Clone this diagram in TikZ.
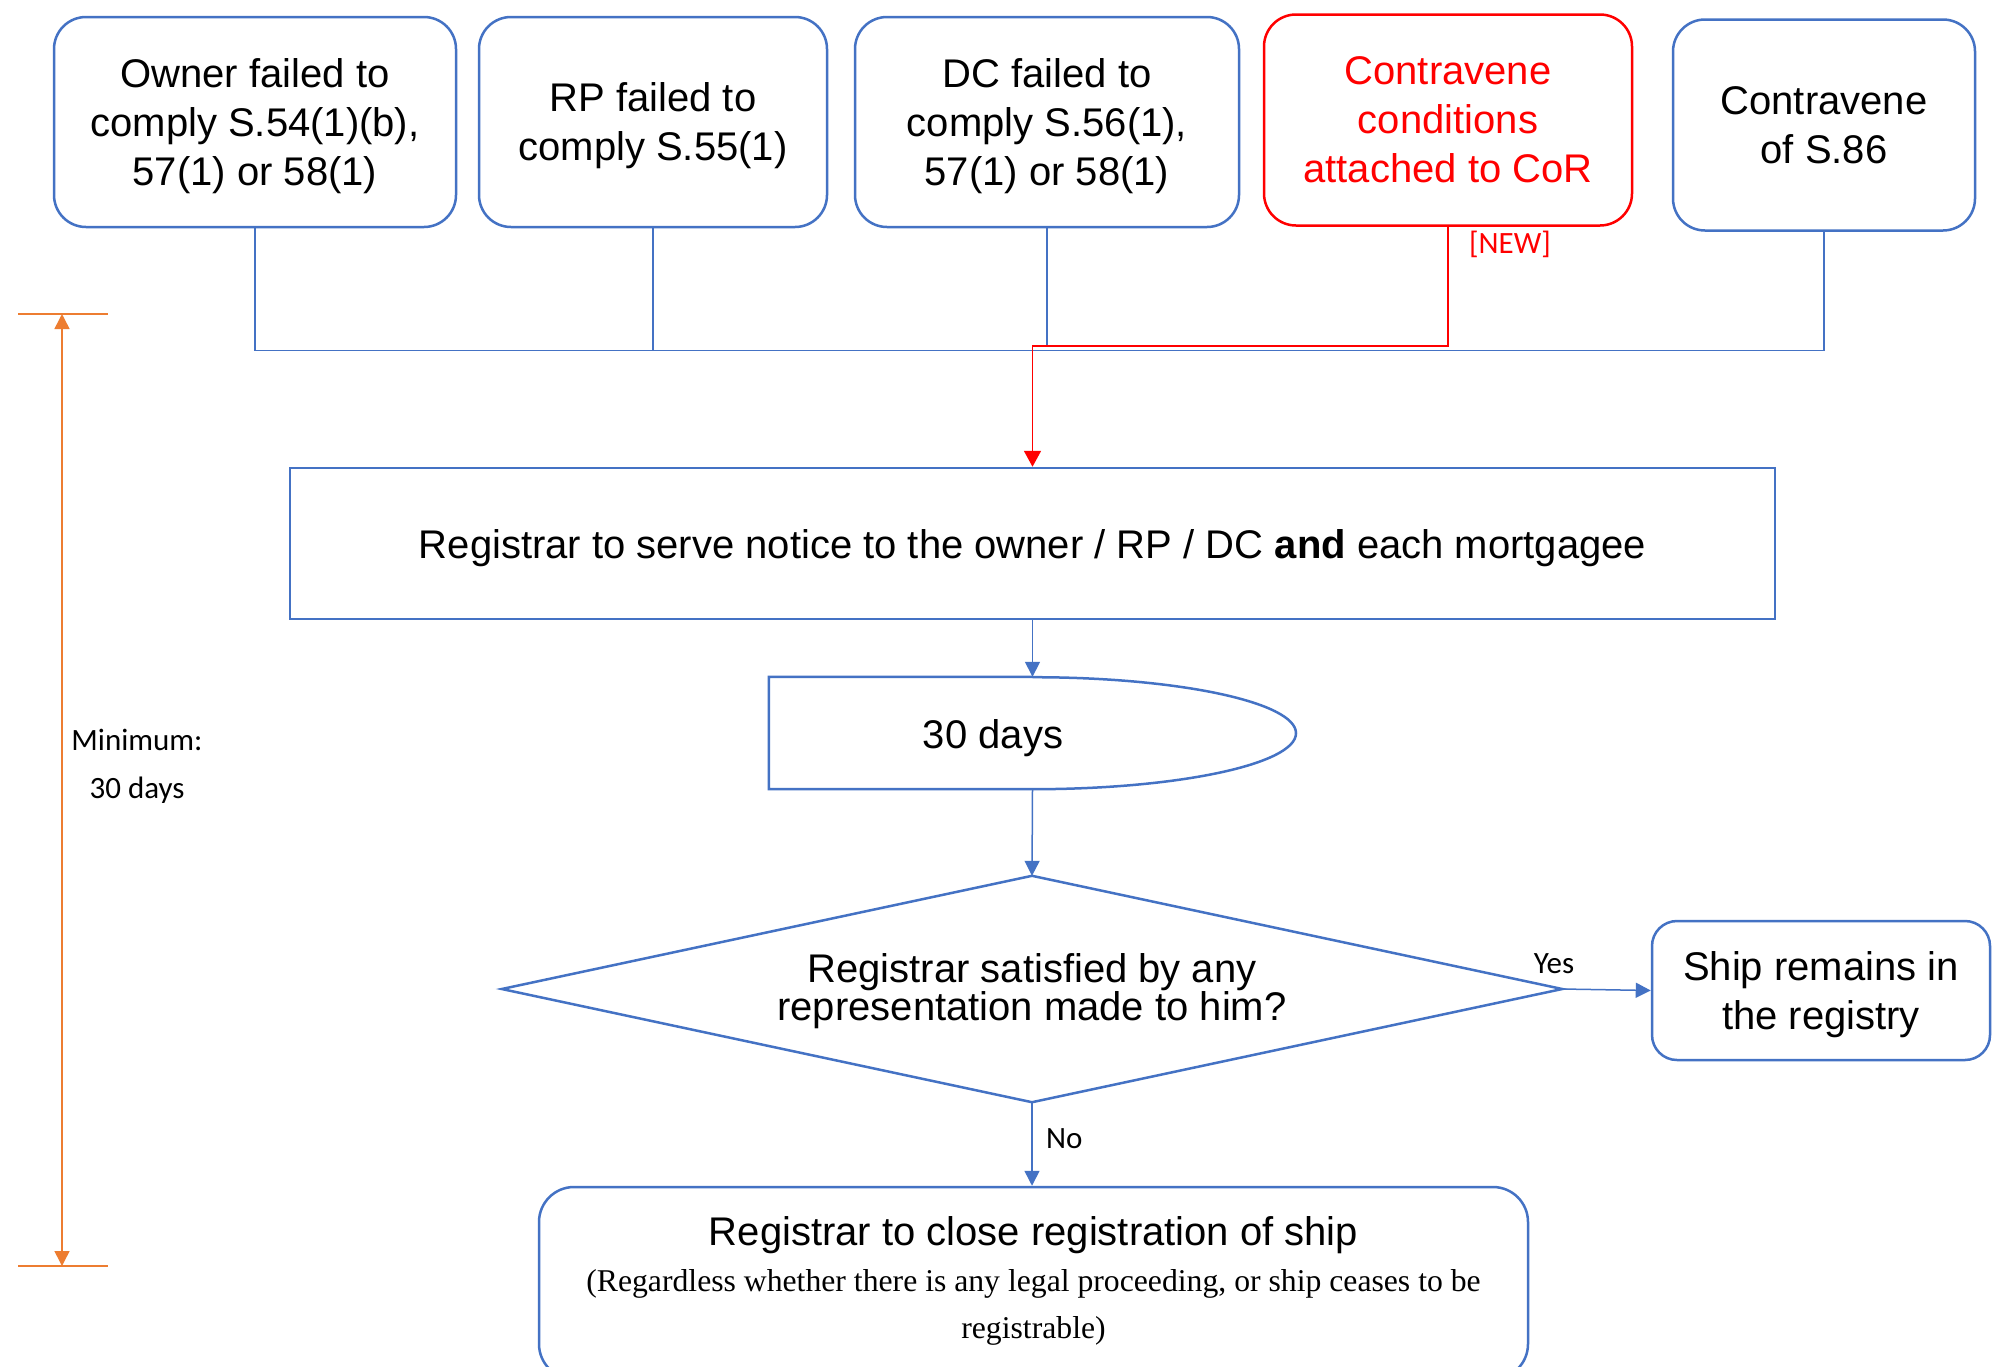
\documentclass[tikz,border=0pt]{standalone}
\usepackage{fontspec}
\setmainfont{Liberation Sans}
\newfontfamily\calfont{Carlito}
\newfontfamily\tnrfont{Liberation Serif}
\usetikzlibrary{arrows.meta}
\definecolor{oblue}{HTML}{4472C4}
\definecolor{ored}{HTML}{FF0000}
\definecolor{oorange}{HTML}{ED7D31}
\begin{document}
\begin{tikzpicture}[x=1pt,y=-1pt,
  topbox/.style={draw=oblue,line width=2.5pt,rounded corners=32pt,inner sep=0pt,align=center,
    text depth=0pt,font=\fontsize{40}{49}\selectfont},
  plainbox/.style={draw=oblue,line width=2.5pt,inner sep=0pt},
  conn/.style={draw=oblue,line width=1.5pt},
  arr/.style={draw=oblue,line width=1.5pt,-{Triangle[length=15pt,width=15pt]}},
  redarr/.style={draw=ored,line width=1.8pt,-{Triangle[length=16pt,width=17pt]}},
  small/.style={font=\calfont\fontsize{31}{37}\selectfont,inner sep=0pt},
  bigtxt/.style={font=\fontsize{40}{48}\selectfont,inner sep=0pt,align=center}
]
\fill[white] (0,0) rectangle (2002,1366);
\useasboundingbox (0,0) rectangle (2002,1366);

% top boxes
\node[topbox,minimum width=402pt,minimum height=210pt] (b1) at (255,122)
  {Owner failed to\\comply S.54(1)(b),\\57(1) or 58(1)};
\node[topbox,minimum width=348pt,minimum height=210pt] (b2) at (653,122)
  {RP failed to\\comply S.55(1)};
\node[topbox,minimum width=384pt,minimum height=210pt] (b3) at (1047,122)
  {DC failed to\\comply S.56(1),\\57(1) or 58(1)};
\node[topbox,draw=ored,text=ored,minimum width=368pt,minimum height=211pt] (b4) at (1448,120)
  {Contravene\\conditions\\attached to CoR};
\node[topbox,minimum width=302pt,minimum height=211pt] (b5) at (1824,125)
  {Contravene\\of S.86};
\node[small,text=ored,anchor=base] (new) at (1510,253) {[NEW]};

% notice box
\node[plainbox,minimum width=1485pt,minimum height=151pt,bigtxt,text depth=0pt] (notice) at (1032.5,543.5)
  {Registrar to serve notice to the owner / RP / DC \textbf{and} each mortgagee};

% delay shape
\node[inner sep=0pt,minimum width=527pt,minimum height=112pt] (delay) at (1032.5,733) {};
\draw[oblue,line width=2.5pt] (delay.north) -- (delay.north west) -- (delay.south west) -- (delay.south)
  arc[start angle=-90,end angle=90,x radius=263.5pt,y radius=56pt];
\node[bigtxt,text depth=0pt] (delaytxt) at (993,734) {30 days};

% decision diamond
\node[inner sep=0pt,minimum width=1060pt,minimum height=226pt,bigtxt,
  font=\fontsize{40}{35}\selectfont] (dec) at (1032,989) {};
\node[bigtxt,font=\fontsize{40}{35}\selectfont] (dectxt) at (1032,991)
  {Registrar satisfied by any\\representation made to him?};
\draw[oblue,line width=2.5pt] (dec.north) -- (dec.east) -- (dec.south) -- (dec.west) -- cycle;

% ship remains
\node[topbox,rounded corners=25pt,minimum width=338pt,minimum height=139pt,
  font=\fontsize{40}{49}\selectfont] (ship) at (1821,990.5)
  {Ship remains in\\the registry};

% close registration
\node[draw=oblue,line width=2.5pt,rounded corners=35pt,inner sep=0pt,
  minimum width=989pt,minimum height=192pt] (close) at (1033.5,1283) {};
\node[bigtxt,anchor=base] (closeA) at (1033.5,1245) {Registrar to close registration of ship};
\node[font=\tnrfont\fontsize{31.7}{38}\selectfont,inner sep=0pt,anchor=base] (closeB) at (1033.5,1291)
  {(Regardless whether there is any legal proceeding, or ship ceases to be};
\node[font=\tnrfont\fontsize{31.7}{38}\selectfont,inner sep=0pt,anchor=base] (closeC) at (1033.5,1338)
  {registrable)};

% connectors top
\draw[conn] (b1.south) -- ++(0,122) -| (b5.south);
\draw[conn] (b2.south) -- ++(0,122);
\draw[conn] (b3.south) -- ++(0,119);
\coordinate (rj) at (notice.north |- 0,346);
\draw[redarr] (b4.south) |- (rj) -- (notice.north);

% flow connectors
\draw[arr] (notice.south) -- (delay.north);
\draw[arr] (delay.south) -- (dec.north);
\draw[arr] (dec.east) -- (ship.west);
\draw[arr] (dec.south) -- (dec.south |- close.north);
\node[small,anchor=base] (yes) at (1554,973) {Yes};
\node[small,anchor=base west] (no) at (1046,1148) {No};

% orange dimension
\coordinate (ot) at (62,314);
\coordinate (ob) at (62,1266);
\draw[oorange,line width=1.5pt,{Triangle[length=15pt,width=15pt]}-{Triangle[length=15pt,width=15pt]}] (ot) -- (ob);
\draw[oorange,line width=2pt] (ot) ++(-44,0) -- ++(90,0);
\draw[oorange,line width=2pt] (ob) ++(-44,0) -- ++(90,0);
\node[small,anchor=base] (min1) at (137,750) {Minimum:};
\node[small,anchor=base] (min2) at (137,798) {30 days};
\end{tikzpicture}
\end{document}
